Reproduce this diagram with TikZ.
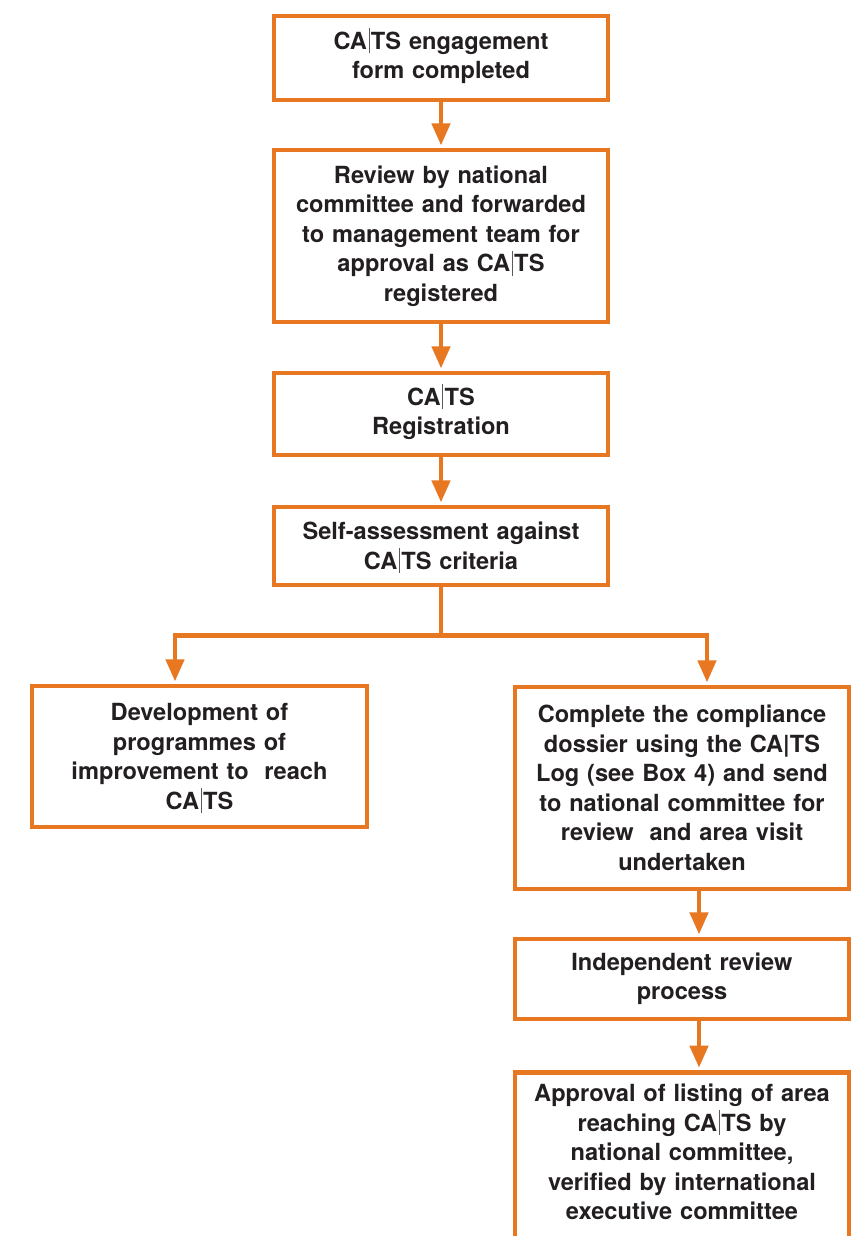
\documentclass[tikz,border=0pt]{standalone}
\usepackage{fontspec}
\setmainfont{TeX Gyre Heros}
\usetikzlibrary{arrows.meta,calc}
\definecolor{catsorange}{HTML}{E87722}
\definecolor{catstext}{HTML}{231F20}
\definecolor{catsbar}{HTML}{5A5A5A}
\newcommand{\cbar}{\kern1.6pt{\color{catsbar}\smash{\rule[-4pt]{0.8pt}{25pt}}}\kern1.6pt}
\begin{document}
\begin{tikzpicture}[x=1pt,y=-1pt,
  txt/.style={inner sep=0pt, text width=325pt, align=center,
    font=\bfseries\fontsize{23.6}{29.5}\selectfont, text=catstext},
  frame/.style={txt, draw=catsorange, line width=4.6pt, minimum width=334pt},
  link/.style={draw=catsorange, line width=4.4pt, line join=miter,
    -{Triangle[length=22pt,width=18pt]}, shorten >=2.3pt},
  plain/.style={draw=catsorange, line width=4.4pt}]
\useasboundingbox (0,0) rectangle (854,1236);
\clip (0,0) rectangle (854,1236);
\fill[white] (0,0) rectangle (854,1236);

\node[frame, minimum height=84pt] (b1) at (441,58)
  {CA\cbar TS engagement\\form completed};
\node[frame, minimum height=172pt] (b2) at (441,236)
  {Review by national\\committee and forwarded\\to management team for\\approval as CA\cbar TS\\registered};
\node[frame, minimum height=82pt] (b3) at (441,414)
  {CA\cbar TS\\Registration};
\node[frame, minimum height=78pt] (b4) at (441,546)
  {Self-assessment against\\CA\cbar TS criteria};
\node[frame, minimum width=335pt, minimum height=141pt] (b5) at (199.5,756.5)
  {Development of\\programmes of\\improvement to\ \ reach\\CA\cbar TS};
\node[frame, minimum height=202pt] (b6) at (682,788)
  {Complete the compliance\\dossier using the CA|TS\\Log (see Box 4) and send\\to national committee for\\review\ \ and area visit\\undertaken};
\node[frame, minimum height=80pt] (b7) at (682,979)
  {Independent review\\process};
\node[frame, anchor=north, minimum height=200pt] (b8) at (682,1070) {};
\node[txt] (b8t) at (682,1152)
  {Approval of listing of area\\reaching CA\cbar TS by\\national committee,\\verified by international\\executive committee};

\draw[link] (b1.south) -- (b2.north);
\draw[link] (b2.south) -- (b3.north);
\draw[link] (b3.south) -- (b4.north);
\draw[plain] (b4.south) -- ++(0,48) coordinate (split);
\coordinate (l5) at ($(b5.north)+(-24.5,0)$);
\coordinate (r6) at ($(b6.north)+(25,0)$);
\draw[link] (split) -| (l5);
\draw[link] (split) -| (r6);
\draw[link] ($(b6.south)+(17,0)$) -- ($(b7.north)+(17,0)$);
\draw[link] ($(b7.south)+(17,0)$) -- ($(b8.north)+(17,0)$);
\end{tikzpicture}
\end{document}
